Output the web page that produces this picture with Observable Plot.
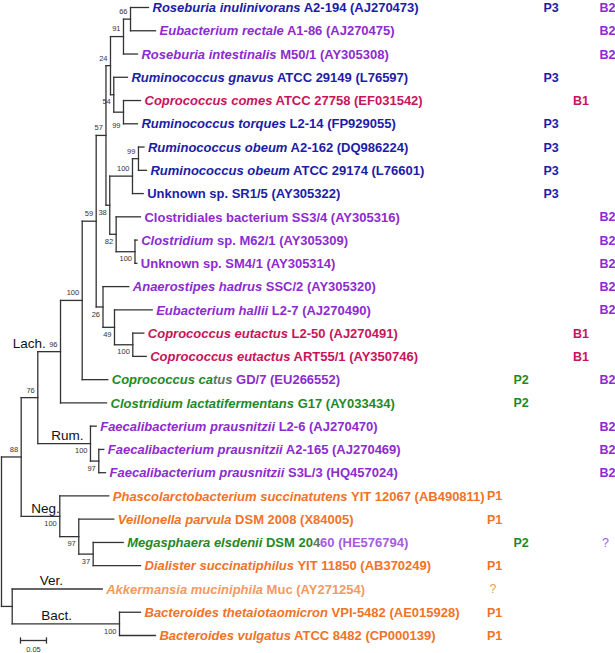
<!DOCTYPE html>
<html><head><meta charset="utf-8">
<script src="https://cdn.jsdelivr.net/npm/d3@7"></script>
<script src="https://cdn.jsdelivr.net/npm/@observablehq/plot@0.6"></script>
<style>html,body{margin:0;padding:0;background:#fff;} svg text{white-space:pre;}</style>
</head><body><div id="chart"></div>
<script>
// ---------- leaf data (top to bottom) ----------
const taxa = ["Roseburia inulinivorans","Eubacterium rectale","Roseburia intestinalis","Ruminococcus gnavus","Coprococcus comes","Ruminococcus torques","Ruminococcus obeum","Ruminococcus obeum","","","Clostridium","","Anaerostipes hadrus","Eubacterium hallii","Coprococcus eutactus","Coprococcus eutactus","Coprococcus catus","Clostridium lactatifermentans","Faecalibacterium prausnitzii","Faecalibacterium prausnitzii","Faecalibacterium prausnitzii","Phascolarctobacterium succinatutens","Veillonella parvula","Megasphaera elsdenii","Dialister succinatiphilus","Akkermansia muciniphila","Bacteroides thetaiotaomicron","Bacteroides vulgatus"];
const strains = ["A2-194","A1-86","M50/1","ATCC 29149","ATCC 27758","L2-14","A2-162","ATCC 29174","Unknown sp. SR1/5","Clostridiales bacterium SS3/4","sp. M62/1","Unknown sp. SM4/1","SSC/2","L2-7","L2-50","ART55/1","GD/7","G17","L2-6","A2-165","S3L/3","YIT 12067","DSM 2008","DSM 20460","YIT 11850","Muc","VPI-5482","ATCC 8482"];
const accessions = ["AJ270473","AJ270475","AY305308","L76597","EF031542","FP929055","DQ986224","L76601","AY305322","AY305316","AY305309","AY305314","AY305320","AJ270490","AJ270491","AY350746","EU266552","AY033434","AJ270470","AJ270469","HQ457024","AB490811","X84005","HE576794","AB370249","AY271254","AE015928","CP000139"];
const labelColour = ["P3","B2","B2","P3","B1","P3","P3","P3","P3","B2","B2","B2","B2","B2","B1","B1","P2","P2","B2","B2","B2","P1","P1","P2","P1","P1?","P1","P1"];
const pathways = [["P3","B2"],["B2"],["B2"],["P3"],["B1"],["P3"],["P3"],["P3"],["P3"],["B2"],["B2"],["B2"],["B2"],["B2"],["B1"],["B1"],["P2","B2"],["P2"],["B2"],["B2"],["B2"],["P1"],["P1"],["P2","B2?"],["P1"],["P1?"],["P1"],["P1"]];
const leafParent = ["I","I","H","J","K","K","N","N","M","O","P","P","Q","S","T","T","D","C","U","V","V","W","X","Y","Y","Z","BN","BN"];
const leafLength = [0.0346,0.0481,0.0269,0.0263,0.0327,0.0269,0.0106,0.0154,0.0206,0.0467,0.0042,0.0035,0.0496,0.0725,0.0212,0.0258,0.0492,0.0885,0.0110,0.0096,0.0129,0.0942,0.0673,0.0577,0.0910,0.1731,0.0404,0.0692];
// labels with mixed colours
const mixedSegments = {
  EU266552: [["Coprococcus ca","italic","P2"],["tus","italic","mid"],[" GD/7 (EU266552)","normal","B2"]],
  HE576794: [["Megasphaera elsdenii","italic","P2"],[" DSM 20","normal","P2"],["4","normal","mid"],["60 (HE576794)","normal","B2?"]]
};

// ---------- internal nodes ----------
const nodeIds     = ["R","A","B","C","D","E","F","G","H","I","J","K","L","M","N","O","P","Q","S","T","U","V","W","X","Y","Z","BN"];
const nodeParent  = [null,"R","A","B","C","D","E","F","G","H","G","J","F","L","M","L","O","E","Q","S","B","U","A","W","X","R","Z"];
const nodeLength  = [0,0.0379,0.0319,0.0437,0.0417,0.0269,0.0188,0.0087,0.0250,0.0135,0.0063,0.0187,0.0073,0.0437,0.0115,0.0123,0.0362,0.0131,0.0221,0.0352,0.1013,0.0160,0.0742,0.0365,0.0277,0.0206,0.2063];
const nodeSupport = [null,88,76,96,100,59,57,24,91,66,54,99,38,100,99,82,100,26,49,100,100,97,100,97,37,null,100];
const supportSide = [null,"above","above","above","above","above","above","above","above","above","below","low","below","above","above","below","below","below","below","below","below","below","below","below","below",null,"below"];

// clade annotations
const cladeNames = ["Lach.","Rum.","Neg.","Ver.","Bact."];
const cladeNodes = ["C","U","W","AY271254","BN"];
const cladeDx = [-25, 13.5, 10, 27.5, 29];

const columns = ["P1","P2","P3","B1","B2"];
const columnLeft = {P1: 486.5, P2: 513, P3: 543, B1: 572.5, B2: 599};

const scaleBarLength = 0.05, scaleBarStart = 0.0365, scaleBarLabel = "0.05";

// ---------- build tree ----------
const nodes = new Map();
nodeIds.forEach((id, i) => nodes.set(id, {id, parent: nodeParent[i], len: nodeLength[i], support: nodeSupport[i], side: supportSide[i], children: [], leaf: false}));
accessions.forEach((acc, i) => nodes.set(acc, {id: acc, parent: leafParent[i], len: leafLength[i], children: [], leaf: true, index: i}));
for (const n of nodes.values()) if (n.parent) nodes.get(n.parent).children.push(n);
const root = nodes.get("R");
(function setX(n, x) { n.x = x; n.children.forEach(c => setX(c, x + c.len)); })(root, 0);
(function setY(n) {
  if (n.leaf) return (n.y = n.index);
  const ys = n.children.map(setY);
  n.y0 = Math.min(...ys); n.y1 = Math.max(...ys);
  return (n.y = (n.y0 + n.y1) / 2);
})(root);

const all = [...nodes.values()];
const hseg = all.filter(n => n.parent).map(n => ({x1: nodes.get(n.parent).x, x2: n.x, y: n.y}));
const vseg = all.filter(n => !n.leaf).map(n => ({x: n.x, y1: n.y0, y2: n.y1}));
const internals = all.filter(n => !n.leaf && n.support != null);
const fullText = i => (taxa[i] ? taxa[i] + " " : "") + strains[i] + " (" + accessions[i] + ")";
const leaves = all.filter(n => n.leaf).sort((a, b) => a.index - b.index).map(n => ({
  x: n.x, y: n.y, i: n.index, colour: labelColour[n.index], text: fullText(n.index)
}));
const cells = [];
pathways.forEach((codes, i) => codes.forEach(code => {
  const q = code.endsWith("?");
  cells.push({y: i, col: q ? code.slice(0, -1) : code, text: q ? "?" : code, colour: code});
}));
const clades = cladeNames.map((name, k) => {
  const n = nodes.get(cladeNodes[k]);
  return {name, x: nodes.get(n.parent).x, y: n.y, dx: cladeDx[k]};
});

const colourDomain = ["P1","P2","P3","B1","B2","P1?","B2?","mid"];
const colourRange  = ["#f07328","#1f8a1f","#1c1ca8","#c8145a","#8d2bd0","#f4995f","#a45ce0","#66706a"];
const nLeaves = accessions.length;
const font = "'Liberation Sans', Arial, Helvetica, sans-serif";
const lineStyle = {stroke: "#333", strokeWidth: 1.3, strokeLinecap: "square"};

const marks = [
  Plot.link(hseg, {x1: "x1", x2: "x2", y1: "y", y2: "y", ...lineStyle}),
  Plot.link(vseg, {x1: "x", x2: "x", y1: "y1", y2: "y2", ...lineStyle}),
  Plot.text(internals.filter(n => n.side === "above"), {x: "x", y: "y", text: "support", textAnchor: "end", dx: -3, dy: -7.5, fontSize: 7.5, fill: "#333"}),
  Plot.text(internals.filter(n => n.side === "below"), {x: "x", y: "y", text: "support", textAnchor: "end", dx: -3, dy: 7.3, fontSize: 7.5, fill: "#333"}),
  Plot.text(internals.filter(n => n.side === "low"), {x: "x", y: "y", text: "support", textAnchor: "end", dx: -3, dy: 13, fontSize: 7.5, fill: "#333"}),
  ...clades.map(c => Plot.text([c], {x: "x", y: "y", text: "name", textAnchor: "start", dx: c.dx, dy: -8, fontSize: 13.5, fill: "#111"})),
  Plot.text(leaves, {x: "x", y: "y", text: "text", fill: "colour", textAnchor: "start", dx: 4, dy: 0.5, fontSize: 13, fontWeight: "bold"}),
  ...columns.map(col => Plot.text(cells.filter(c => c.col === col && c.text !== "?"), {y: "y", text: "text", fill: "colour", frameAnchor: "left", textAnchor: "start", dx: columnLeft[col] - 1, dy: 0.5, fontSize: 12.5, fontWeight: "bold"})),
  ...columns.map(col => Plot.text(cells.filter(c => c.col === col && c.text === "?"), {y: "y", text: "text", fill: "colour", frameAnchor: "left", textAnchor: "start", dx: columnLeft[col] + 1.5, dy: 0.5, fontSize: 12.5})),
  // scale bar
  Plot.link([{x1: scaleBarStart, x2: scaleBarStart + scaleBarLength}], {x1: "x1", x2: "x2", y1: () => nLeaves - 1 + 0.215, y2: () => nLeaves - 1 + 0.215, stroke: "#333", strokeWidth: 1.3}),
  Plot.link([scaleBarStart, scaleBarStart + scaleBarLength], {x1: d => d, x2: d => d, y1: () => nLeaves - 1 + 0.08, y2: () => nLeaves - 1 + 0.35, stroke: "#333", strokeWidth: 1.3}),
  Plot.text([scaleBarLabel], {x: () => scaleBarStart + scaleBarLength / 2, y: () => nLeaves - 1 + 0.6, text: d => d, fontSize: 7.5, fill: "#333"})
];

const plot = Plot.plot({
  width: 615, height: 653,
  marginTop: 7, marginBottom: 18, marginLeft: 1, marginRight: 0,
  x: {domain: [0, 614 / 520], range: [1, 615], axis: null},
  y: {domain: [0, nLeaves - 1], range: [7, 635], axis: null},
  color: {domain: colourDomain, range: colourRange},
  style: {fontFamily: font, background: "#fff", overflow: "visible"},
  marks
});

// mixed-style leaf labels: italic genus/species + upright strain, coloured through the color scale
const cs = plot.scale("color");
const colourOf = k => (cs && typeof cs.apply === "function") ? cs.apply(k) : colourRange[colourDomain.indexOf(k)];
const byText = new Map(accessions.map((a, i) => [fullText(i), i]));
plot.querySelectorAll("text").forEach(t => {
  const i = byText.get(t.textContent);
  if (i === undefined) return;
  const acc = accessions[i];
  const segs = mixedSegments[acc] || (taxa[i]
    ? [[taxa[i], "italic", labelColour[i]], [" " + strains[i] + " (" + acc + ")", "normal", labelColour[i]]]
    : [[strains[i] + " (" + acc + ")", "normal", labelColour[i]]]);
  t.textContent = "";
  segs.forEach(([s, style, key]) => {
    const ts = document.createElementNS("http://www.w3.org/2000/svg", "tspan");
    ts.textContent = s;
    ts.setAttribute("font-style", style);
    ts.setAttribute("fill", colourOf(key));
    t.appendChild(ts);
  });
});
document.getElementById("chart").appendChild(plot);
</script>
</body></html>
